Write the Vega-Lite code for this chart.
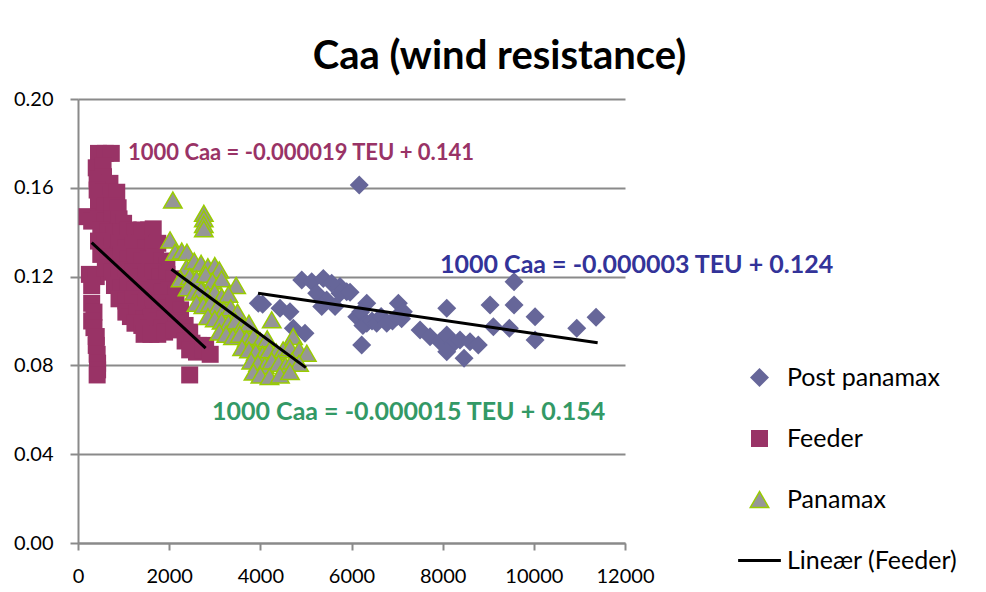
{
  "$schema": "https://vega.github.io/schema/vega-lite/v6.json",
  "autosize": {"type": "none"},
  "padding": {"left": 78, "top": 99, "right": 361, "bottom": 49},
  "width": 547,
  "height": 444,
  "background": "white",
  "title": {"text": "Caa (wind resistance)", "font": "Lato", "fontSize": 40, "fontWeight": "bold", "color": "#000000", "anchor": "middle", "frame": "group", "dx": 148, "dy": 40, "baseline": "alphabetic", "offset": 20},
  "config": {
    "font": "Lato",
    "view": {"stroke": null},
    "axis": {"labelFont": "Lato", "labelFontSize": 20, "labelColor": "#000000", "domainColor": "#8a8a8a", "domainWidth": 2, "tickColor": "#8a8a8a", "tickWidth": 2, "gridColor": "#8a8a8a", "gridWidth": 2, "title": null},
    "legend": {"title": null, "orient": "none", "legendX": 669, "legendY": 266, "padding": 0, "labelFont": "Lato", "labelFontSize": 25, "labelColor": "#000000", "labelOffset": 15, "rowPadding": 35, "symbolOpacity": 1, "labelLimit": 400}
  },
  "datasets": {
    "points": [
      {"series": "Post panamax", "teu": 6170, "caa": 0.1613},
      {"series": "Post panamax", "teu": 4908, "caa": 0.1185},
      {"series": "Post panamax", "teu": 5127, "caa": 0.1177},
      {"series": "Post panamax", "teu": 5382, "caa": 0.1192},
      {"series": "Post panamax", "teu": 5566, "caa": 0.117},
      {"series": "Post panamax", "teu": 5748, "caa": 0.1155},
      {"series": "Post panamax", "teu": 5895, "caa": 0.1132},
      {"series": "Post panamax", "teu": 5236, "caa": 0.1125},
      {"series": "Post panamax", "teu": 5455, "caa": 0.1095},
      {"series": "Post panamax", "teu": 5748, "caa": 0.1125},
      {"series": "Post panamax", "teu": 5968, "caa": 0.113},
      {"series": "Post panamax", "teu": 5347, "caa": 0.1065},
      {"series": "Post panamax", "teu": 5639, "caa": 0.1065},
      {"series": "Post panamax", "teu": 3956, "caa": 0.108},
      {"series": "Post panamax", "teu": 4050, "caa": 0.1075},
      {"series": "Post panamax", "teu": 4432, "caa": 0.1057},
      {"series": "Post panamax", "teu": 4651, "caa": 0.1042},
      {"series": "Post panamax", "teu": 4724, "caa": 0.0967},
      {"series": "Post panamax", "teu": 4980, "caa": 0.0945},
      {"series": "Post panamax", "teu": 6224, "caa": 0.0892},
      {"series": "Post panamax", "teu": 6334, "caa": 0.108},
      {"series": "Post panamax", "teu": 7028, "caa": 0.108},
      {"series": "Post panamax", "teu": 6115, "caa": 0.1019},
      {"series": "Post panamax", "teu": 6200, "caa": 0.104},
      {"series": "Post panamax", "teu": 6250, "caa": 0.098},
      {"series": "Post panamax", "teu": 6334, "caa": 0.099},
      {"series": "Post panamax", "teu": 6450, "caa": 0.1},
      {"series": "Post panamax", "teu": 6553, "caa": 0.099},
      {"series": "Post panamax", "teu": 6650, "caa": 0.102},
      {"series": "Post panamax", "teu": 6773, "caa": 0.099},
      {"series": "Post panamax", "teu": 6900, "caa": 0.1},
      {"series": "Post panamax", "teu": 6992, "caa": 0.1019},
      {"series": "Post panamax", "teu": 7100, "caa": 0.101},
      {"series": "Post panamax", "teu": 7138, "caa": 0.1042},
      {"series": "Post panamax", "teu": 8089, "caa": 0.1057},
      {"series": "Post panamax", "teu": 7504, "caa": 0.0959},
      {"series": "Post panamax", "teu": 7723, "caa": 0.0929},
      {"series": "Post panamax", "teu": 7942, "caa": 0.0907},
      {"series": "Post panamax", "teu": 8089, "caa": 0.0937},
      {"series": "Post panamax", "teu": 8234, "caa": 0.0899},
      {"series": "Post panamax", "teu": 8380, "caa": 0.0914},
      {"series": "Post panamax", "teu": 8600, "caa": 0.0907},
      {"series": "Post panamax", "teu": 8782, "caa": 0.0892},
      {"series": "Post panamax", "teu": 8089, "caa": 0.0862},
      {"series": "Post panamax", "teu": 8469, "caa": 0.0832},
      {"series": "Post panamax", "teu": 9040, "caa": 0.1072},
      {"series": "Post panamax", "teu": 9112, "caa": 0.0974},
      {"series": "Post panamax", "teu": 9566, "caa": 0.1177},
      {"series": "Post panamax", "teu": 9566, "caa": 0.1072},
      {"series": "Post panamax", "teu": 9463, "caa": 0.0967},
      {"series": "Post panamax", "teu": 10027, "caa": 0.1019},
      {"series": "Post panamax", "teu": 10027, "caa": 0.0914},
      {"series": "Post panamax", "teu": 10941, "caa": 0.0967},
      {"series": "Post panamax", "teu": 11365, "caa": 0.1017},

      {"series": "Feeder", "teu": 450, "caa": 0.1755},
      {"series": "Feeder", "teu": 600, "caa": 0.1755},
      {"series": "Feeder", "teu": 730, "caa": 0.1755},
      {"series": "Feeder", "teu": 400, "caa": 0.169},
      {"series": "Feeder", "teu": 550, "caa": 0.17},
      {"series": "Feeder", "teu": 420, "caa": 0.164},
      {"series": "Feeder", "teu": 560, "caa": 0.165},
      {"series": "Feeder", "teu": 700, "caa": 0.162},
      {"series": "Feeder", "teu": 420, "caa": 0.159},
      {"series": "Feeder", "teu": 560, "caa": 0.158},
      {"series": "Feeder", "teu": 720, "caa": 0.157},
      {"series": "Feeder", "teu": 850, "caa": 0.158},
      {"series": "Feeder", "teu": 450, "caa": 0.153},
      {"series": "Feeder", "teu": 600, "caa": 0.152},
      {"series": "Feeder", "teu": 750, "caa": 0.152},
      {"series": "Feeder", "teu": 880, "caa": 0.151},
      {"series": "Feeder", "teu": 200, "caa": 0.147},
      {"series": "Feeder", "teu": 300, "caa": 0.145},
      {"series": "Feeder", "teu": 450, "caa": 0.146},
      {"series": "Feeder", "teu": 600, "caa": 0.145},
      {"series": "Feeder", "teu": 750, "caa": 0.146},
      {"series": "Feeder", "teu": 900, "caa": 0.146},
      {"series": "Feeder", "teu": 1000, "caa": 0.144},
      {"series": "Feeder", "teu": 500, "caa": 0.141},
      {"series": "Feeder", "teu": 650, "caa": 0.14},
      {"series": "Feeder", "teu": 800, "caa": 0.139},
      {"series": "Feeder", "teu": 950, "caa": 0.14},
      {"series": "Feeder", "teu": 1100, "caa": 0.141},
      {"series": "Feeder", "teu": 1250, "caa": 0.14},
      {"series": "Feeder", "teu": 1400, "caa": 0.141},
      {"series": "Feeder", "teu": 1550, "caa": 0.141},
      {"series": "Feeder", "teu": 1650, "caa": 0.1415},
      {"series": "Feeder", "teu": 450, "caa": 0.136},
      {"series": "Feeder", "teu": 600, "caa": 0.135},
      {"series": "Feeder", "teu": 750, "caa": 0.134},
      {"series": "Feeder", "teu": 900, "caa": 0.135},
      {"series": "Feeder", "teu": 1050, "caa": 0.133},
      {"series": "Feeder", "teu": 1200, "caa": 0.134},
      {"series": "Feeder", "teu": 1350, "caa": 0.135},
      {"series": "Feeder", "teu": 1500, "caa": 0.133},
      {"series": "Feeder", "teu": 1650, "caa": 0.134},
      {"series": "Feeder", "teu": 1750, "caa": 0.135},
      {"series": "Feeder", "teu": 500, "caa": 0.13},
      {"series": "Feeder", "teu": 650, "caa": 0.129},
      {"series": "Feeder", "teu": 800, "caa": 0.128},
      {"series": "Feeder", "teu": 950, "caa": 0.13},
      {"series": "Feeder", "teu": 1100, "caa": 0.128},
      {"series": "Feeder", "teu": 1250, "caa": 0.129},
      {"series": "Feeder", "teu": 1400, "caa": 0.127},
      {"series": "Feeder", "teu": 1550, "caa": 0.128},
      {"series": "Feeder", "teu": 1700, "caa": 0.129},
      {"series": "Feeder", "teu": 1850, "caa": 0.127},
      {"series": "Feeder", "teu": 1950, "caa": 0.125},
      {"series": "Feeder", "teu": 250, "caa": 0.121},
      {"series": "Feeder", "teu": 400, "caa": 0.12},
      {"series": "Feeder", "teu": 600, "caa": 0.124},
      {"series": "Feeder", "teu": 750, "caa": 0.122},
      {"series": "Feeder", "teu": 900, "caa": 0.123},
      {"series": "Feeder", "teu": 1050, "caa": 0.121},
      {"series": "Feeder", "teu": 1200, "caa": 0.122},
      {"series": "Feeder", "teu": 1350, "caa": 0.12},
      {"series": "Feeder", "teu": 1500, "caa": 0.121},
      {"series": "Feeder", "teu": 1650, "caa": 0.122},
      {"series": "Feeder", "teu": 1800, "caa": 0.12},
      {"series": "Feeder", "teu": 1950, "caa": 0.121},
      {"series": "Feeder", "teu": 2100, "caa": 0.119},
      {"series": "Feeder", "teu": 300, "caa": 0.116},
      {"series": "Feeder", "teu": 800, "caa": 0.116},
      {"series": "Feeder", "teu": 950, "caa": 0.115},
      {"series": "Feeder", "teu": 1100, "caa": 0.116},
      {"series": "Feeder", "teu": 1250, "caa": 0.114},
      {"series": "Feeder", "teu": 1400, "caa": 0.116},
      {"series": "Feeder", "teu": 1550, "caa": 0.114},
      {"series": "Feeder", "teu": 1700, "caa": 0.115},
      {"series": "Feeder", "teu": 1850, "caa": 0.113},
      {"series": "Feeder", "teu": 2000, "caa": 0.114},
      {"series": "Feeder", "teu": 2150, "caa": 0.112},
      {"series": "Feeder", "teu": 300, "caa": 0.108},
      {"series": "Feeder", "teu": 900, "caa": 0.11},
      {"series": "Feeder", "teu": 1050, "caa": 0.109},
      {"series": "Feeder", "teu": 1200, "caa": 0.11},
      {"series": "Feeder", "teu": 1350, "caa": 0.108},
      {"series": "Feeder", "teu": 1500, "caa": 0.109},
      {"series": "Feeder", "teu": 1650, "caa": 0.107},
      {"series": "Feeder", "teu": 1800, "caa": 0.108},
      {"series": "Feeder", "teu": 1950, "caa": 0.106},
      {"series": "Feeder", "teu": 2100, "caa": 0.107},
      {"series": "Feeder", "teu": 2250, "caa": 0.105},
      {"series": "Feeder", "teu": 350, "caa": 0.104},
      {"series": "Feeder", "teu": 1050, "caa": 0.104},
      {"series": "Feeder", "teu": 1150, "caa": 0.102},
      {"series": "Feeder", "teu": 1300, "caa": 0.103},
      {"series": "Feeder", "teu": 1450, "caa": 0.101},
      {"series": "Feeder", "teu": 1600, "caa": 0.102},
      {"series": "Feeder", "teu": 1750, "caa": 0.1},
      {"series": "Feeder", "teu": 1900, "caa": 0.101},
      {"series": "Feeder", "teu": 2050, "caa": 0.099},
      {"series": "Feeder", "teu": 2200, "caa": 0.1},
      {"series": "Feeder", "teu": 2350, "caa": 0.098},
      {"series": "Feeder", "teu": 300, "caa": 0.1},
      {"series": "Feeder", "teu": 350, "caa": 0.097},
      {"series": "Feeder", "teu": 1250, "caa": 0.099},
      {"series": "Feeder", "teu": 1400, "caa": 0.098},
      {"series": "Feeder", "teu": 1550, "caa": 0.097},
      {"series": "Feeder", "teu": 1700, "caa": 0.098},
      {"series": "Feeder", "teu": 1850, "caa": 0.097},
      {"series": "Feeder", "teu": 2000, "caa": 0.098},
      {"series": "Feeder", "teu": 2150, "caa": 0.099},
      {"series": "Feeder", "teu": 2300, "caa": 0.097},
      {"series": "Feeder", "teu": 2450, "caa": 0.095},
      {"series": "Feeder", "teu": 400, "caa": 0.093},
      {"series": "Feeder", "teu": 1450, "caa": 0.094},
      {"series": "Feeder", "teu": 1600, "caa": 0.094},
      {"series": "Feeder", "teu": 1750, "caa": 0.094},
      {"series": "Feeder", "teu": 1900, "caa": 0.095},
      {"series": "Feeder", "teu": 2100, "caa": 0.096},
      {"series": "Feeder", "teu": 2350, "caa": 0.091},
      {"series": "Feeder", "teu": 2500, "caa": 0.09},
      {"series": "Feeder", "teu": 2650, "caa": 0.089},
      {"series": "Feeder", "teu": 2800, "caa": 0.089},
      {"series": "Feeder", "teu": 400, "caa": 0.089},
      {"series": "Feeder", "teu": 2450, "caa": 0.087},
      {"series": "Feeder", "teu": 2600, "caa": 0.086},
      {"series": "Feeder", "teu": 2750, "caa": 0.087},
      {"series": "Feeder", "teu": 2900, "caa": 0.085},
      {"series": "Feeder", "teu": 420, "caa": 0.085},
      {"series": "Feeder", "teu": 430, "caa": 0.081},
      {"series": "Feeder", "teu": 430, "caa": 0.078},
      {"series": "Feeder", "teu": 420, "caa": 0.0757},
      {"series": "Feeder", "teu": 2450, "caa": 0.0757},

      {"series": "Panamax", "teu": 2080, "caa": 0.1545},
      {"series": "Panamax", "teu": 2760, "caa": 0.1485},
      {"series": "Panamax", "teu": 2760, "caa": 0.146},
      {"series": "Panamax", "teu": 2760, "caa": 0.1435},
      {"series": "Panamax", "teu": 2760, "caa": 0.1415},
      {"series": "Panamax", "teu": 2020, "caa": 0.1365},
      {"series": "Panamax", "teu": 2130, "caa": 0.131},
      {"series": "Panamax", "teu": 2275, "caa": 0.1315},
      {"series": "Panamax", "teu": 2390, "caa": 0.131},
      {"series": "Panamax", "teu": 2380, "caa": 0.124},
      {"series": "Panamax", "teu": 2550, "caa": 0.127},
      {"series": "Panamax", "teu": 2700, "caa": 0.126},
      {"series": "Panamax", "teu": 2850, "caa": 0.1245},
      {"series": "Panamax", "teu": 3000, "caa": 0.125},
      {"series": "Panamax", "teu": 3100, "caa": 0.123},
      {"series": "Panamax", "teu": 2250, "caa": 0.119},
      {"series": "Panamax", "teu": 2450, "caa": 0.12},
      {"series": "Panamax", "teu": 2600, "caa": 0.119},
      {"series": "Panamax", "teu": 2800, "caa": 0.121},
      {"series": "Panamax", "teu": 2950, "caa": 0.118},
      {"series": "Panamax", "teu": 3150, "caa": 0.119},
      {"series": "Panamax", "teu": 3470, "caa": 0.116},
      {"series": "Panamax", "teu": 2400, "caa": 0.115},
      {"series": "Panamax", "teu": 2550, "caa": 0.113},
      {"series": "Panamax", "teu": 2700, "caa": 0.114},
      {"series": "Panamax", "teu": 2850, "caa": 0.112},
      {"series": "Panamax", "teu": 3000, "caa": 0.113},
      {"series": "Panamax", "teu": 3150, "caa": 0.111},
      {"series": "Panamax", "teu": 3300, "caa": 0.112},
      {"series": "Panamax", "teu": 2600, "caa": 0.108},
      {"series": "Panamax", "teu": 2750, "caa": 0.107},
      {"series": "Panamax", "teu": 2900, "caa": 0.108},
      {"series": "Panamax", "teu": 3050, "caa": 0.106},
      {"series": "Panamax", "teu": 3200, "caa": 0.105},
      {"series": "Panamax", "teu": 3350, "caa": 0.106},
      {"series": "Panamax", "teu": 3500, "caa": 0.104},
      {"series": "Panamax", "teu": 2850, "caa": 0.102},
      {"series": "Panamax", "teu": 3000, "caa": 0.101},
      {"series": "Panamax", "teu": 3150, "caa": 0.1},
      {"series": "Panamax", "teu": 3300, "caa": 0.099},
      {"series": "Panamax", "teu": 3450, "caa": 0.1},
      {"series": "Panamax", "teu": 3600, "caa": 0.098},
      {"series": "Panamax", "teu": 3750, "caa": 0.099},
      {"series": "Panamax", "teu": 4250, "caa": 0.1005},
      {"series": "Panamax", "teu": 3100, "caa": 0.095},
      {"series": "Panamax", "teu": 3250, "caa": 0.094},
      {"series": "Panamax", "teu": 3400, "caa": 0.093},
      {"series": "Panamax", "teu": 3550, "caa": 0.094},
      {"series": "Panamax", "teu": 3700, "caa": 0.092},
      {"series": "Panamax", "teu": 3850, "caa": 0.093},
      {"series": "Panamax", "teu": 4000, "caa": 0.091},
      {"series": "Panamax", "teu": 4150, "caa": 0.092},
      {"series": "Panamax", "teu": 4720, "caa": 0.093},
      {"series": "Panamax", "teu": 3600, "caa": 0.088},
      {"series": "Panamax", "teu": 3750, "caa": 0.087},
      {"series": "Panamax", "teu": 3900, "caa": 0.086},
      {"series": "Panamax", "teu": 4050, "caa": 0.085},
      {"series": "Panamax", "teu": 4200, "caa": 0.087},
      {"series": "Panamax", "teu": 4350, "caa": 0.086},
      {"series": "Panamax", "teu": 4500, "caa": 0.087},
      {"series": "Panamax", "teu": 4650, "caa": 0.088},
      {"series": "Panamax", "teu": 4850, "caa": 0.087},
      {"series": "Panamax", "teu": 5020, "caa": 0.0855},
      {"series": "Panamax", "teu": 3800, "caa": 0.082},
      {"series": "Panamax", "teu": 3950, "caa": 0.081},
      {"series": "Panamax", "teu": 4100, "caa": 0.08},
      {"series": "Panamax", "teu": 4250, "caa": 0.082},
      {"series": "Panamax", "teu": 4400, "caa": 0.081},
      {"series": "Panamax", "teu": 4550, "caa": 0.08},
      {"series": "Panamax", "teu": 4700, "caa": 0.082},
      {"series": "Panamax", "teu": 4850, "caa": 0.081},
      {"series": "Panamax", "teu": 3850, "caa": 0.077},
      {"series": "Panamax", "teu": 4000, "caa": 0.0757},
      {"series": "Panamax", "teu": 4200, "caa": 0.075},
      {"series": "Panamax", "teu": 4430, "caa": 0.0757},
      {"series": "Panamax", "teu": 4650, "caa": 0.0772}
    ],
    "trends": [
      {"series": "Feeder", "teu": 300, "caa": 0.1353, "teu2": 2800, "caa2": 0.0878},
      {"series": "Panamax", "teu": 2050, "caa": 0.1233, "teu2": 5000, "caa2": 0.079},
      {"series": "Post panamax", "teu": 3950, "caa": 0.1125, "teu2": 11400, "caa2": 0.0902}
    ],
    "labels": [
      {"series": "Feeder", "teu": 1097, "caa": 0.1755, "text": "1000 Caa = -0.000019 TEU + 0.141"},
      {"series": "Post panamax", "teu": 7942, "caa": 0.1252, "text": "1000 Caa = -0.000003 TEU + 0.124"},
      {"series": "Panamax", "teu": 2940, "caa": 0.059, "text": "1000 Caa = -0.000015 TEU + 0.154"}
    ]
  },
  "layer": [
    {
      "data": {"name": "points"},
      "mark": {"type": "point", "filled": true, "opacity": 1},
      "encoding": {
        "x": {"field": "teu", "type": "quantitative", "scale": {"domain": [0, 12000], "nice": false}, "axis": {"values": [0, 2000, 4000, 6000, 8000, 10000, 12000], "format": "d", "grid": false, "tickSize": 7, "labelPadding": 16, "labelFlush": false}},
        "y": {"field": "caa", "type": "quantitative", "scale": {"domain": [0, 0.2], "nice": false}, "axis": {"values": [0, 0.04, 0.08, 0.12, 0.16, 0.2], "format": ".2f", "grid": true, "tickSize": 8, "labelPadding": 17, "labelFlush": false}},
        "fill": {"field": "series", "type": "nominal", "scale": {"domain": ["Post panamax", "Feeder", "Panamax", "Lineær (Feeder)"], "range": ["#666699", "#993366", "#969696", "#000000"]}},
        "stroke": {"field": "series", "type": "nominal", "scale": {"domain": ["Post panamax", "Feeder", "Panamax", "Lineær (Feeder)"], "range": ["#666699", "#993366", "#99CC00", "#000000"]}},
        "shape": {"field": "series", "type": "nominal", "scale": {"domain": ["Post panamax", "Feeder", "Panamax", "Lineær (Feeder)"], "range": ["diamond", "square", "triangle-up", "M-2.25,0L2.25,0"]}},
        "size": {"field": "series", "type": "nominal", "scale": {"type": "ordinal", "domain": ["Post panamax", "Feeder", "Panamax", "Lineær (Feeder)"], "range": [361, 289, 340, 361]}},
        "strokeWidth": {"field": "series", "type": "nominal", "scale": {"type": "ordinal", "domain": ["Post panamax", "Feeder", "Panamax", "Lineær (Feeder)"], "range": [0, 0, 1.5, 3]}}
      }
    },
    {
      "data": {"name": "trends"},
      "mark": {"type": "rule", "color": "#000000", "strokeWidth": 3},
      "encoding": {
        "x": {"field": "teu", "type": "quantitative"},
        "y": {"field": "caa", "type": "quantitative"},
        "x2": {"field": "teu2"},
        "y2": {"field": "caa2"}
      }
    },
    {
      "data": {"name": "labels"},
      "transform": [{"filter": "datum.series === 'Feeder'"}],
      "mark": {"type": "text", "font": "Lato", "fontSize": 22, "fontWeight": "bold", "align": "left", "baseline": "middle"},
      "encoding": {
        "x": {"field": "teu", "type": "quantitative"},
        "y": {"field": "caa", "type": "quantitative"},
        "text": {"field": "text", "type": "nominal"},
        "color": {"field": "series", "type": "nominal", "scale": {"domain": ["Feeder", "Post panamax", "Panamax"], "range": ["#993366", "#333399", "#339966"]}, "legend": null}
      }
    },
    {
      "data": {"name": "labels"},
      "transform": [{"filter": "datum.series !== 'Feeder'"}],
      "mark": {"type": "text", "font": "Lato", "fontSize": 25, "fontWeight": "bold", "align": "left", "baseline": "middle"},
      "encoding": {
        "x": {"field": "teu", "type": "quantitative"},
        "y": {"field": "caa", "type": "quantitative"},
        "text": {"field": "text", "type": "nominal"},
        "color": {"field": "series", "type": "nominal", "legend": null}
      }
    }
  ]
}
